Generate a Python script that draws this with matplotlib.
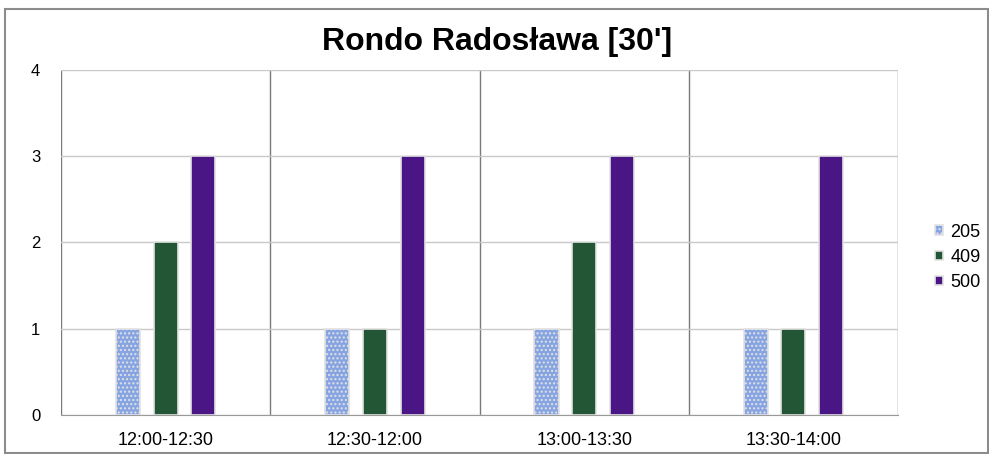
import numpy as np
import matplotlib.pyplot as plt
from matplotlib.patches import Rectangle

plt.rcParams['font.family'] = ['Liberation Sans', 'DejaVu Sans']
plt.rcParams['hatch.color'] = '#3a5aa8'

categories = ['12:00-12:30', '12:30-12:00', '13:00-13:30', '13:30-14:00']
series = ['205', '409', '500']
v205 = [1, 1, 1, 1]
v409 = [2, 1, 2, 1]
v500 = [3, 3, 3, 3]
colors = ['#86a4e2', '#235634', '#4a1584']
hatches = ['....', None, None]

fig = plt.figure(figsize=(9.89, 4.54), dpi=100)
fig.patches.append(Rectangle((5 / 989, 0.002), 983 / 989, 1 - 10 / 454, transform=fig.transFigure,
                             fill=False, edgecolor='#8c8c8c', linewidth=1.5))
ax = fig.add_axes([0.0617, 0.0859, 0.8463, 0.76])

x = np.arange(len(categories))
width = 0.115
offsets = [-0.18, 0, 0.18]
for vals, name, col, h, off in zip([v205, v409, v500], series, colors, hatches, offsets):
    ax.bar(x + off, vals, width, color=col, label=name, edgecolor='#e2e2e2', linewidth=1.2,
           hatch=h, zorder=3)

ax.set_xlim(-0.5, len(categories) - 0.5)
ax.set_ylim(0, 4)
ax.set_yticks([0, 1, 2, 3, 4])
ax.set_xticks(x)
ax.set_xticklabels(categories, fontsize=13)
ax.tick_params(axis='y', length=0, labelsize=12, pad=15)
ax.tick_params(axis='x', length=0, pad=12)
ax.yaxis.grid(True, color='#c8c8c8', linewidth=1, zorder=0)
for b in np.arange(-0.5, len(categories), 1.0):
    ax.axvline(b, color='#7a7a7a', linewidth=1, zorder=1)
for s in ['top', 'right', 'left']:
    ax.spines[s].set_visible(False)
ax.spines['bottom'].set_color('#9a9a9a')

fig.text(0.503, 0.907, "Rondo Radosława [30']", ha='center', va='center', fontsize=23,
         fontweight='bold')

leg = ax.legend(loc='center left', bbox_to_anchor=(1.025, 0.457), frameon=False, fontsize=13,
                handlelength=0.45, handleheight=0.45, handletextpad=0.4, labelspacing=0.45)

fig.savefig('out.png', dpi=100)
